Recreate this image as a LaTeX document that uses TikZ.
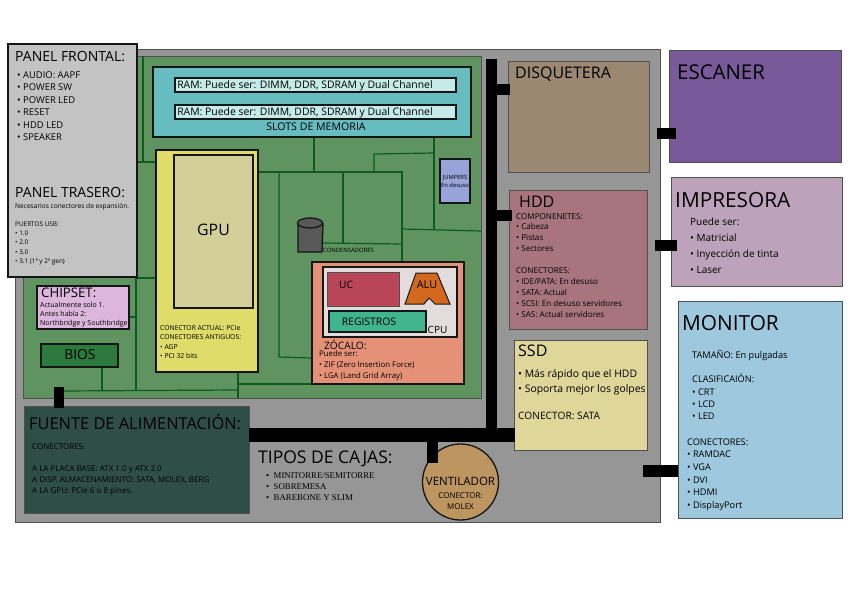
\documentclass[tikz,border=0pt]{standalone}
\usepackage{fontspec}
\setmainfont{Open Sans}
\newfontfamily\serifcase{Liberation Serif}
\newcommand{\fsz}[2]{\fontsize{#1}{#2}\selectfont}
% \bx[style]{name}{hex}{x1}{y1}{x2}{y2}
\newcommand{\bx}[7][panel]{%
  \definecolor{tmpfill}{HTML}{#3}%
  \pgfmathsetmacro{\bxw}{#6-#4}\pgfmathsetmacro{\bxh}{#7-#5}%
  \node[#1,fill=tmpfill,minimum width=\bxw pt,minimum height=\bxh pt] (#2) at ({(#4+#6)/2},{(#5+#7)/2}) {};}
\definecolor{tracec}{HTML}{0F5A23}
\definecolor{inkc}{HTML}{151515}
\definecolor{aluc}{HTML}{D2691E}
\definecolor{fanc}{HTML}{BD9560}
\tikzset{
  x=1pt,y=-1pt,
  panel/.style={draw=inkc,line width=1.6pt,inner sep=0pt,outer sep=0pt,rectangle},
  thinpanel/.style={draw=inkc!75!white,line width=1pt,inner sep=0pt,outer sep=0pt,rectangle},
  lbl/.style={anchor=north west,inner sep=0pt,align=left,text=black},
  ctr/.style={anchor=center,inner sep=0pt,align=center,text=black},
  sz/.style n args={2}{font=\fsz{#1}{#2}},
  tracel/.style={draw=tracec,line width=1.2pt},
  bus/.style={draw=black,line width=11pt},
}
\begin{document}
\begin{tikzpicture}
\useasboundingbox (0,0) rectangle (848,600);
\fill[white] (0,0) rectangle (848,600);

% case and motherboard
\bx[thinpanel]{case}{969696}{15}{49}{660}{522}
\bx[thinpanel]{mobo}{5F9360}{23}{56}{481}{398}

% board traces
\coordinate (t1) at (143,56);   \coordinate (t2) at (143,162);
\coordinate (t3) at (137,162);  \coordinate (t4) at (156,162);
\coordinate (t5) at (137,278);  \coordinate (t6) at (156,278);
\coordinate (t7) at (136,278);  \coordinate (t8) at (136,391);
\coordinate (t9) at (129,317);  \coordinate (t10) at (136,317);
\coordinate (t11) at (60,391);  \coordinate (t12) at (239,390);
\coordinate (t13) at (102,367); \coordinate (t14) at (102,391);
\coordinate (t15) at (238,372); \coordinate (t16) at (238,398);
\coordinate (t17) at (238,384); \coordinate (t18) at (312,384);
\coordinate (t19) at (279,172); \coordinate (t20) at (279,357);
\coordinate (t21) at (312,358); \coordinate (t22) at (258,172);
\coordinate (t23) at (402,172); \coordinate (t24) at (402,262);
\coordinate (t25) at (314,137); \coordinate (t26) at (314,172);
\coordinate (t27) at (374,172); \coordinate (t28) at (374,154);
\coordinate (t29) at (434,153); \coordinate (t30) at (434,137);
\coordinate (t31) at (434,229); \coordinate (t32) at (402,229);
\coordinate (t33) at (481,231); \coordinate (t34) at (343,172);
\coordinate (t35) at (343,243); \coordinate (t36) at (323,243);
\coordinate (t37) at (402,244);
\draw[tracel] (t1) -- (t2);
\draw[tracel] (t3) -- (t4);
\draw[tracel] (t5) -- (t6);
\draw[tracel] (t7) -- (t8);
\draw[tracel] (t9) -- (t10);
\draw[tracel] (t11) -- (t12);
\draw[tracel] (t13) -- (t14);
\draw[tracel] (t15) -- (t16);
\draw[tracel] (t17) -- (t18);
\draw[tracel] (t19) -- (t20) -- (t21);
\draw[tracel] (t22) -- (t23) -- (t24);
\draw[tracel] (t25) -- (t26);
\draw[tracel] (t27) -- (t28) -- (t29);
\draw[tracel] (t30) -- (t31);
\draw[tracel] (t32) -- (t33);
\draw[tracel] (t34) -- (t35);
\draw[tracel] (t36) -- (t37);

% black bus
\coordinate (b1) at (491.5,59);  \coordinate (b2) at (491.5,435);
\coordinate (b3) at (249,435);   \coordinate (b4) at (515,435);
\coordinate (b5) at (432.5,435); \coordinate (b6) at (432.5,463);
\coordinate (b7) at (491,89.5);  \coordinate (b8) at (510,89.5);
\coordinate (b9) at (490,215.5); \coordinate (b10) at (512,215.5);
\coordinate (b11) at (59,387);   \coordinate (b12) at (59,408);
\coordinate (b13) at (657,133.5);\coordinate (b14) at (676,133.5);
\coordinate (b15) at (655,245.5);\coordinate (b16) at (677,245.5);
\coordinate (b17) at (643,471);  \coordinate (b18) at (678,471);

% boxes on the board
\bx{slots}{66BCBF}{153}{67}{471}{137}
\bx{ram1}{C5EBE8}{175}{78}{456}{92}
\bx{ram2}{C5EBE8}{175}{105}{456}{119}
\bx{gpuboard}{E0DC6A}{156}{150}{258}{372}
\bx{gpu}{D2D098}{174}{155}{253}{308}
\bx{chipset}{DCB6DC}{37}{286}{129}{329}
\bx{bios}{2C7A3E}{41}{344}{118}{367}
\bx{jumpers}{97A3D9}{440}{159}{470}{203}
\bx{zocalo}{E59178}{312}{262}{464}{384}
\bx{cpu}{E3DCDC}{323}{267}{457}{337}
\bx[thinpanel]{uc}{B84658}{327}{272}{399}{306}
\bx{reg}{3FB48D}{329}{311}{426}{332}
\draw[fill=aluc,draw=inkc,line width=1pt] (416,273) -- (437,273) -- (450,304) -- (435,304) -- (429,298) -- (424,304) -- (405,304) -- cycle;

% capacitor
\draw[fill=black!65,draw=inkc,line width=1.3pt] (298,223) -- (298,252) -- (322,252) -- (323,223);
\draw[fill=black!65,draw=inkc,line width=1.3pt] (310,223) ellipse [x radius=12.5,y radius=5];

% outer boxes
\bx{panels}{C3C3C3}{8}{44}{137}{277}
\bx[thinpanel]{psu}{2F4F46}{24}{406}{249}{513}
\bx[thinpanel]{floppy}{9A8873}{508}{61}{649}{172}
\bx[thinpanel]{hdd}{A8757F}{509}{190}{647}{329}
\bx[thinpanel]{ssd}{DFD69A}{514}{340}{647}{450}
\bx[thinpanel]{scanner}{785A9A}{669}{50}{841}{162}
\bx[thinpanel]{printer}{BCA2BA}{671}{177}{842}{286}
\bx[thinpanel]{monitor}{9DC8DD}{678}{301}{842}{518}
\node[circle,draw=inkc,line width=1.3pt,fill=fanc,minimum size=76pt,inner sep=0pt] (fan) at (460.5,482) {};

% connectors
\draw[bus] (b1) -- (b2);
\draw[draw=black,line width=14pt] (b3) -- (b4);
\draw[bus] (b5) -- (b6);
\draw[bus] (b7) -- (b8);
\draw[bus] (b9) -- (b10);
\draw[draw=black,line width=10pt] (b11) -- (b12);
\draw[bus] (b13) -- (b14);
\draw[bus] (b15) -- (b16);
\draw[draw=black,line width=12pt] (b17) -- (b18);

% text
\node[lbl,sz={14}{18}] (tfront) at (15,51) {PANEL FRONTAL:};
\node[lbl,sz={9.4}{12.4}] (lfront) at (17,71.5) {• AUDIO: AAPF\\• POWER SW\\• POWER LED\\• RESET\\• HDD LED\\• SPEAKER};
\node[lbl,sz={14}{18}] (trear) at (15,187) {PANEL TRASERO:};
\node[lbl,sz={6.6}{8}] (lrear) at (15,203) {Necesarios conectores de expansión.};
\node[lbl,sz={6.4}{9.25}] (lusb) at (15,221.5) {PUERTOS USB:\\• 1.0\\• 2.0\\• 3.0\\• 3.1 (1ª y 2ª gen)};

\node[ctr,sz={10.4}{12}] (tram1) at (305,85.5) {RAM: Puede ser: DIMM, DDR, SDRAM y Dual Channel};
\node[ctr,sz={10.4}{12}] (tram2) at (305,112.5) {RAM: Puede ser: DIMM, DDR, SDRAM y Dual Channel};
\node[ctr,sz={10.6}{12}] (tslots) at (316,127) {SLOTS DE MEMORIA};
\node[ctr,sz={15.8}{18}] (tgpu) at (213.5,230) {GPU};
\node[lbl,sz={6.8}{9.3}] (tgpub) at (160,325.5) {CONECTOR ACTUAL: PCIe\\CONECTORES ANTIGUOS:\\• AGP\\• PCI 32 bits};
\node[ctr,sz={5.8}{8}] (tjump) at (455,181) {JUMPERS\\En desuso};
\node[lbl,sz={5.9}{6}] (tcond) at (323,248) {CONDENSADORES};

\node[lbl,sz={13.2}{16}] (tchip) at (41,287.5) {CHIPSET:};
\node[lbl,sz={7}{9}] (lchip) at (40,302) {Actualmente solo 1.\\Antes había 2:\\Northbridge y Southbridge};
\node[ctr,sz={13.8}{16}] (tbios) at (80,355) {BIOS};

\node[ctr,sz={10.2}{12}] (tuc) at (346,285) {UC};
\node[ctr,sz={10.8}{12}] (talu) at (427,285) {ALU};
\node[ctr,sz={10.4}{12}] (treg) at (369,321.5) {REGISTROS};
\node[ctr,sz={10}{12}] (tcpu) at (437.5,330) {CPU};
\node[lbl,sz={10.2}{12}] (tzoc) at (324,340) {ZÓCALO:};
\node[lbl,sz={7.8}{11}] (lzoc) at (319,350.5) {Puede ser:\\• ZIF (Zero Insertion Force)\\• LGA (Land Grid Array)};

\node[lbl,sz={16.4}{20}] (tpsu) at (29,414) {FUENTE DE ALIMENTACIÓN:};
\node[lbl,sz={8}{11}] (lpsu) at (32,443.5) {CONECTORES:\\[11pt]A LA PLACA BASE: ATX 1.0 y ATX 2.0\\A DISP. ALMACENAMIENTO: SATA, MOLEX, BERG\\A LA GPU: PCIe 6 o 8 pines.};

\node[lbl,sz={17.5}{21}] (tcajas) at (258,451) {TIPOS DE CAJAS:};
\node[lbl,font=\serifcase\fsz{8.8}{11.2}] (lcajas) at (266,472) {•\ \ MINITORRE/SEMITORRE\\•\ \ SOBREMESA\\•\ \ BAREBONE Y SLIM};

\node[ctr,sz={11.5}{13}] (tfan) at (460.5,481) {VENTILADOR};
\node[ctr,sz={8}{11}] (lfan) at (460.5,501) {CONECTOR:\\MOLEX};

\node[lbl,sz={16}{19}] (tfloppy) at (515,67) {DISQUETERA};
\node[lbl,sz={16}{19}] (thdd) at (519,196) {HDD};
\node[lbl,sz={8.1}{10.9}] (lhdd) at (516,213) {COMPONENETES:\\• Cabeza\\• Pistas\\• Sectores\\[10.9pt]CONECTORES:\\• IDE/PATA: En desuso\\• SATA: Actual\\• SCSI: En desuso servidores\\• SAS: Actual servidores};
\node[lbl,sz={16}{19}] (tssd) at (518,345) {SSD};
\node[lbl,sz={10.4}{14.6}] (lssd) at (518,369.5) {• Más rápido que el HDD\\• Soporta mejor los golpes};
\node[lbl,sz={10.2}{10}] (cssd) at (518,412) {CONECTOR: SATA};

\node[lbl,sz={20.4}{24}] (tscan) at (677,65) {ESCANER};
\node[lbl,sz={20.8}{24}] (tprint) at (675,192) {IMPRESORA};
\node[lbl,sz={10}{15.9}] (lprint) at (690,217.5) {Puede ser:\\• Matricial\\• Inyección de tinta\\• Laser};
\node[lbl,sz={20.8}{24}] (tmon) at (682,315) {MONITOR};
\node[lbl,sz={9.2}{10}] (lmon1) at (692,350) {TAMAÑO: En pulgadas};
\node[lbl,sz={9.2}{12.4}] (lmon2) at (692,374) {CLASIFICAIÓN:\\• CRT\\• LCD\\• LED};
\node[lbl,sz={9.2}{12.6}] (lmon3) at (687,438.5) {CONECTORES:\\• RAMDAC\\• VGA\\• DVI\\• HDMI\\• DisplayPort};
\end{tikzpicture}
\end{document}
